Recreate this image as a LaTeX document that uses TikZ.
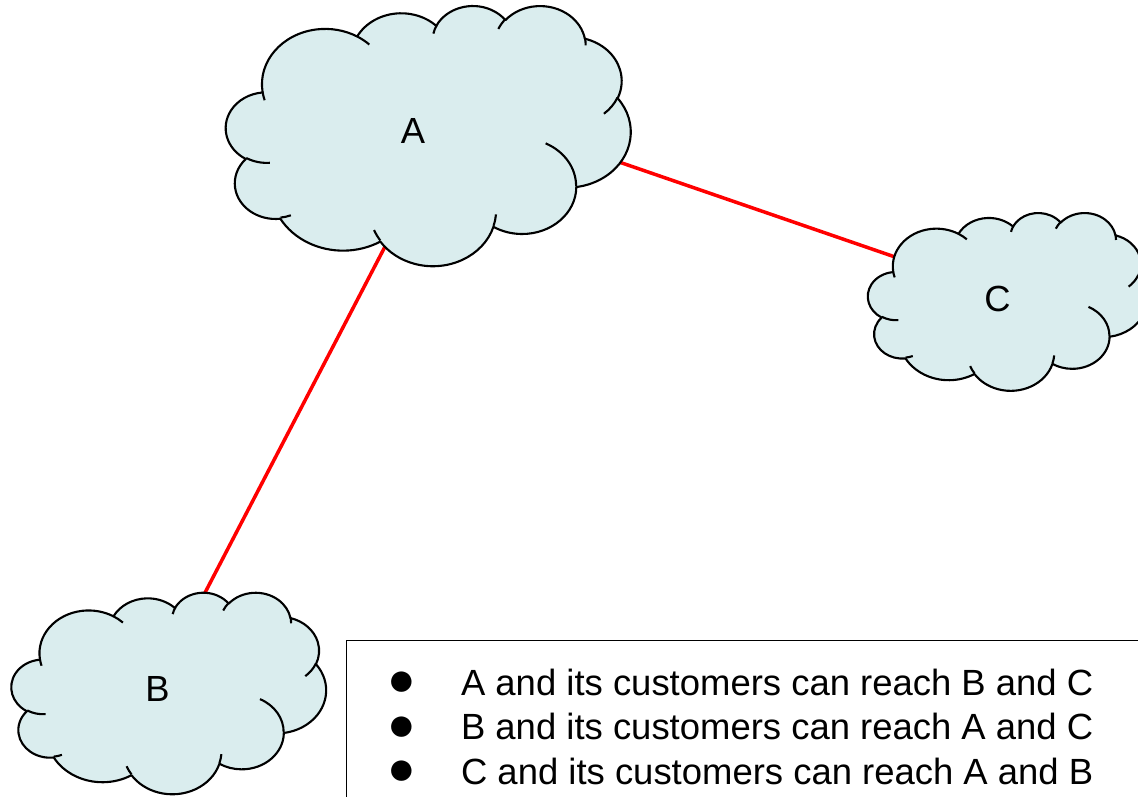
\documentclass[tikz,border=0pt]{standalone}
\usepackage{fontspec}
\setmainfont{Liberation Sans}
\definecolor{cloudfill}{HTML}{DAEDEE}
\definecolor{linkred}{HTML}{FF0000}
% OOXML-style arcTo: wR, hR, start angle, sweep (visual angles, degrees)
\newcommand\ooarc[4]{\pgfextra{%
  \pgfmathparse{atan2((#1)*sin(#3),(#2)*cos(#3))}\xdef\ooA{\pgfmathresult}%
  \pgfmathparse{atan2((#1)*sin((#3)+(#4)),(#2)*cos((#3)+(#4)))}\xdef\ooB{\pgfmathresult}%
  \pgfmathparse{\ooB<\ooA ? \ooB+360 : \ooB}\xdef\ooB{\pgfmathresult}%
 } arc[x radius=#1, y radius=#2, start angle=\ooA, end angle=\ooB]}
\newcommand\cloudoutline{(3.900,14.370)
 \ooarc{6.753}{9.190}{-190.48748}{123.78053}
 \ooarc{5.333}{7.267}{-144.10238}{89.94523}
 \ooarc{4.365}{5.945}{-145.80792}{99.72302}
 \ooarc{4.857}{6.595}{-130.98607}{117.24173}
 \ooarc{5.333}{7.273}{-78.70888}{109.02692}
 \ooarc{6.775}{9.220}{-46.26725}{130.26900}
 \ooarc{5.785}{7.867}{0.62502}{114.03333}
 \ooarc{6.752}{9.215}{22.45160}{115.17255}
 \ooarc{7.720}{10.543}{66.24263}{75.71102}
 \ooarc{4.360}{5.918}{-274.94208}{146.73557}
 \ooarc{4.345}{5.945}{-246.82850}{152.51885}
 -- cycle}
\newcommand\cloudcreases{%
 (4.693,26.177) \ooarc{4.345}{5.945}{86.74200}{26.42950}
 (6.928,34.899) \ooarc{4.360}{5.918}{73.61047}{11.44747}
 (16.478,39.090) \ooarc{6.752}{9.215}{137.62415}{14.08110}
 (28.827,34.751) \ooarc{6.752}{9.215}{6.45327}{15.99835}
 (34.129,22.954) \ooarc{5.785}{7.867}{-70.29208}{70.91737}
 (41.798,15.354) \ooarc{5.333}{7.273}{30.31803}{27.75150}
 (38.324,5.426) \ooarc{4.857}{6.595}{-13.74433}{14.85890}
 (29.078,3.952) \ooarc{4.857}{6.595}{-149.18145}{18.19537}
 (22.141,4.720) \ooarc{4.365}{5.945}{-163.49427}{17.68635}
 (14.000,5.192) \ooarc{6.753}{9.190}{-66.70695}{12.31935}
 (4.127,15.789) \ooarc{6.753}{9.190}{157.65435}{11.85817}}
\newcommand\ppcloud[4]{%
 \begin{scope}[shift={(#1,#2)}, xscale=#3, yscale=#4]
  \path[cloudbody] \cloudoutline;
  \path[cloudcrease] \cloudcreases;
 \end{scope}}
\begin{document}
\begin{tikzpicture}[x=0.02cm, y=-0.02cm,
  cloudbody/.style={fill=cloudfill, draw=black, line width=1.2pt, line join=round},
  cloudcrease/.style={draw=black, line width=1.2pt},
  link/.style={draw=linkred, line width=2pt},
  cloudlabel/.style={font=\fontsize{20.7}{24}\selectfont, inner sep=0pt, anchor=base},
  textline/.style={font=\fontsize{20.75}{24}\selectfont, inner sep=0pt, anchor=base west},
  bulletmark/.style={font=\fontsize{27}{30}\selectfont, inner sep=0pt, anchor=center},
  textbox/.style={draw=black, line width=0.8pt, anchor=north west, inner sep=0pt,
    minimum width=16.2cm, minimum height=4cm}]
\clip (0,0) rectangle (1138,796);
\fill[white] (0,0) rectangle (1138,796);
\coordinate (ab1) at (403,212);
\coordinate (ab2) at (187,627.3);
\coordinate (ac1) at (590.6,152.2);
\coordinate (ac2) at (922.7,266.5);
\draw[link] (ab1) -- (ab2);
\draw[link] (ac1) -- (ac2);
\ppcloud{226.0}{5.16}{9.366}{6.021}
\ppcloud{11.5}{592.05}{7.281}{4.664}
\ppcloud{868.0}{212.42}{6.459}{4.115}
\node[cloudlabel] (A) at (413,143.3) {A};
\node[cloudlabel] (B) at (157.5,701.7) {B};
\node[cloudlabel] (C) at (997.5,311) {C};
\node[textbox] (box) at (346,640) {};
\node[bulletmark] (b1) at (402,684) {●};
\node[bulletmark] (b2) at (402,728.5) {●};
\node[bulletmark] (b3) at (402,773) {●};
\node[textline] (l1) at (460.7,695) {A and its customers can reach B and C};
\node[textline] (l2) at (460.7,739.5) {B and its customers can reach A and C};
\node[textline] (l3) at (460.7,784) {C and its customers can reach A and B};
\end{tikzpicture}
\end{document}
